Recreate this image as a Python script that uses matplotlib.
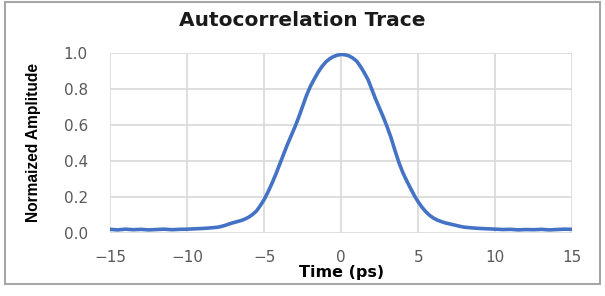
import matplotlib.pyplot as plt
from matplotlib.patches import Rectangle

# time axis (ps) and normalized amplitude
time_ps = [-15, -14.5, -14, -13.5, -13, -12.5, -12, -11.5, -11, -10.5, -10,
           -9.5, -9, -8.5, -8, -7.75, -7.5, -7.25, -7, -6.75, -6.5, -6.25,
           -6, -5.75, -5.5, -5.25, -5, -4.75, -4.5, -4.25, -4, -3.75, -3.5,
           -3.25, -3, -2.75, -2.5, -2.25, -2, -1.75, -1.5, -1.25, -1, -0.75,
           -0.5, -0.25, 0, 0.25, 0.5, 0.75, 1, 1.25, 1.5, 1.75, 2, 2.25, 2.5,
           2.75, 3, 3.25, 3.5, 3.75, 4, 4.25, 4.5, 4.75, 5, 5.25, 5.5, 5.75,
           6, 6.25, 6.5, 6.75, 7, 7.25, 7.5, 7.75, 8, 8.5, 9, 9.5, 10, 10.5,
           11, 11.5, 12, 12.5, 13, 13.5, 14, 14.5, 15]
amplitude = [0.020, 0.017, 0.021, 0.018, 0.020, 0.017, 0.019, 0.021, 0.018, 0.020, 0.021,
             0.023, 0.025, 0.028, 0.032, 0.037, 0.043, 0.051, 0.057, 0.063, 0.069, 0.077,
             0.088, 0.103, 0.122, 0.152, 0.186, 0.228, 0.275, 0.325, 0.380, 0.435, 0.490,
             0.540, 0.590, 0.645, 0.705, 0.765, 0.815, 0.855, 0.893, 0.925, 0.950, 0.968,
             0.980, 0.988, 0.992, 0.990, 0.984, 0.972, 0.955, 0.925, 0.890, 0.850, 0.795,
             0.740, 0.690, 0.640, 0.585, 0.525, 0.455, 0.390, 0.335, 0.290, 0.248, 0.207,
             0.172, 0.142, 0.117, 0.097, 0.082, 0.071, 0.063, 0.056, 0.051, 0.046, 0.041,
             0.036, 0.032, 0.028, 0.025, 0.023, 0.021, 0.019, 0.020, 0.017, 0.019, 0.018,
             0.020, 0.017, 0.019, 0.021, 0.020]

x_ticks = [-15, -10, -5, 0, 5, 10, 15]
y_ticks = [0.0, 0.2, 0.4, 0.6, 0.8, 1.0]

fig = plt.figure(figsize=(6.05, 2.96), dpi=100)
ax = fig.add_axes([0.182, 0.213, 0.764, 0.608])

ax.plot(time_ps, amplitude, color='#4472C4', linewidth=2.6, zorder=3)

ax.set_xlim(-15, 15)
ax.set_ylim(0, 1.0)
ax.set_xticks(x_ticks)
ax.set_yticks(y_ticks)
ax.set_yticklabels([f'{v:.1f}' for v in y_ticks])
ax.grid(True, color='#D9D9D9', linewidth=1.2)
for s in ax.spines.values():
    s.set_visible(False)
ax.tick_params(length=0, labelsize=11, labelcolor='#595959')
ax.tick_params(axis='x', pad=12)
ax.tick_params(axis='y', pad=16)

fig.text(0.499, 0.93, 'Autocorrelation Trace', fontsize=14.5, fontweight='bold',
         color='#1a1a1a', ha='center', va='center')
ax.set_xlabel('Time (ps)', fontsize=11.5, fontweight='bold', labelpad=0)
ax.set_ylabel('Normaized Amplitude', fontsize=11.2, fontweight='bold',
              family='Liberation Sans', labelpad=16)

# outer chart border
fig.patches.append(Rectangle((0.008, 0.04), 0.984, 0.953, transform=fig.transFigure,
                             fill=False, edgecolor='#A6A6A6', linewidth=1.5))

fig.savefig('out.png', dpi=100)
